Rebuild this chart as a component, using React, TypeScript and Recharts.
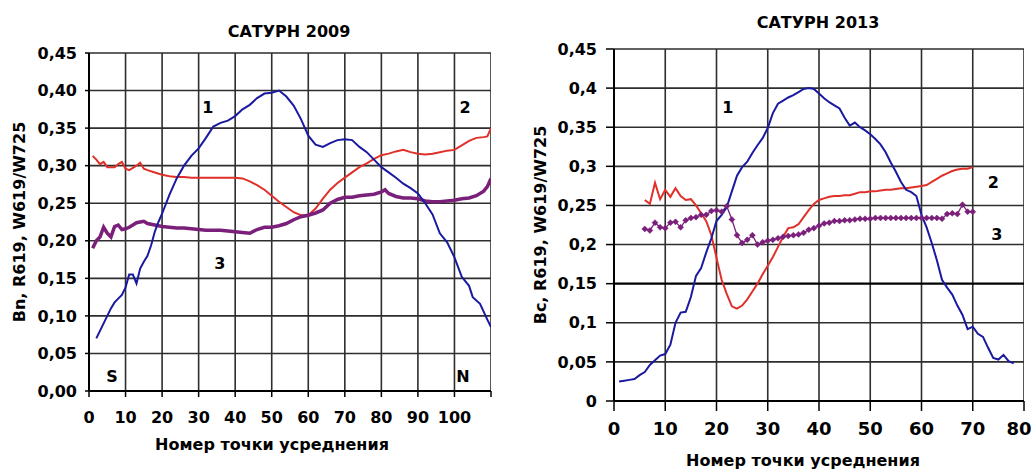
import React from 'react';
import { LineChart, Line, XAxis, YAxis, ReferenceDot } from 'recharts';

// ---------- Saturn 2009 (left) ----------
const LEFT_TITLE = 'САТУРН  2009';
const LEFT_Y_LABEL = 'Bn, R619,  W619/W725';
const LEFT_X_TICKS = [0, 10, 20, 30, 40, 50, 60, 70, 80, 90, 100, 110];

const LEFT_BLUE_X = [2, 3, 4, 5, 6, 7, 8, 9, 10, 11, 12, 13, 14, 15, 16, 17, 18, 19, 20, 22, 24, 26, 28, 30, 32, 34, 36, 38, 40, 42, 44, 46, 48, 50, 52, 54, 56, 58, 60, 62, 64, 66, 68, 70, 72, 74, 76, 78, 80, 82, 84, 86, 88, 90, 92, 94, 96, 98, 100, 102, 104, 105, 107, 109, 110];
const LEFT_BLUE_Y = [0.070, 0.080, 0.090, 0.100, 0.110, 0.118, 0.123, 0.128, 0.138, 0.155, 0.155, 0.143, 0.163, 0.172, 0.180, 0.194, 0.212, 0.225, 0.236, 0.261, 0.283, 0.300, 0.313, 0.323, 0.337, 0.352, 0.357, 0.360, 0.366, 0.375, 0.381, 0.390, 0.396, 0.397, 0.400, 0.392, 0.380, 0.362, 0.340, 0.328, 0.325, 0.330, 0.334, 0.335, 0.334, 0.325, 0.318, 0.308, 0.298, 0.291, 0.284, 0.276, 0.270, 0.263, 0.250, 0.235, 0.210, 0.198, 0.178, 0.152, 0.140, 0.125, 0.116, 0.095, 0.085];

const LEFT_RED_X = [1, 2, 3, 4, 5, 6, 7, 8, 9, 10, 11, 12, 13, 14, 15, 16, 18, 20, 22, 24, 26, 28, 30, 32, 34, 36, 38, 40, 42, 44, 46, 48, 50, 52, 54, 56, 58, 60, 62, 64, 66, 68, 70, 72, 74, 76, 78, 80, 82, 84, 86, 88, 90, 92, 94, 96, 98, 100, 102, 104, 106, 108, 109, 110];
const LEFT_RED_Y = [0.313, 0.308, 0.302, 0.305, 0.298, 0.298, 0.298, 0.302, 0.305, 0.296, 0.294, 0.297, 0.300, 0.304, 0.296, 0.294, 0.291, 0.288, 0.286, 0.285, 0.285, 0.284, 0.284, 0.284, 0.284, 0.284, 0.284, 0.284, 0.283, 0.279, 0.274, 0.268, 0.260, 0.252, 0.245, 0.238, 0.234, 0.234, 0.243, 0.256, 0.268, 0.277, 0.284, 0.291, 0.298, 0.303, 0.309, 0.314, 0.316, 0.319, 0.321, 0.318, 0.316, 0.315, 0.316, 0.318, 0.320, 0.321, 0.327, 0.333, 0.337, 0.338, 0.339, 0.350];

const LEFT_PURPLE_X = [1, 2, 3, 4, 5, 6, 7, 8, 9, 10, 11, 12, 13, 14, 15, 16, 18, 20, 22, 24, 26, 28, 30, 32, 34, 36, 38, 40, 42, 44, 46, 48, 50, 52, 54, 56, 58, 60, 62, 64, 66, 68, 70, 72, 74, 76, 78, 80, 81, 82, 84, 86, 88, 90, 92, 94, 96, 98, 100, 102, 104, 106, 108, 109, 110];
const LEFT_PURPLE_Y = [0.190, 0.200, 0.205, 0.218, 0.210, 0.205, 0.219, 0.221, 0.215, 0.216, 0.218, 0.221, 0.224, 0.225, 0.226, 0.223, 0.221, 0.219, 0.218, 0.217, 0.217, 0.216, 0.215, 0.214, 0.214, 0.214, 0.213, 0.212, 0.211, 0.210, 0.215, 0.218, 0.218, 0.220, 0.223, 0.228, 0.232, 0.234, 0.237, 0.241, 0.250, 0.255, 0.258, 0.258, 0.260, 0.261, 0.262, 0.265, 0.268, 0.263, 0.259, 0.257, 0.257, 0.256, 0.253, 0.252, 0.252, 0.253, 0.254, 0.256, 0.257, 0.260, 0.266, 0.272, 0.283];

// ---------- Saturn 2013 (right) ----------
const RIGHT_TITLE = 'САТУРН  2013';
const RIGHT_Y_LABEL = 'Bc,  R619,  W619/W725';
const RIGHT_X_TICKS = [0, 10, 20, 30, 40, 50, 60, 70, 80];

const RIGHT_BLUE_X = [1, 2, 3, 4, 5, 6, 7, 8, 9, 10, 11, 12, 13, 14, 15, 16, 17, 18, 19, 20, 21, 22, 23, 24, 25, 26, 27, 28, 29, 30, 31, 32, 33, 34, 35, 36, 37, 38, 39, 40, 41, 42, 43, 44, 45, 46, 47, 48, 49, 50, 51, 52, 53, 54, 55, 56, 57, 58, 59, 60, 61, 62, 63, 64, 65, 66, 67, 68, 69, 70, 71, 72, 73, 74, 75, 76, 77, 78];
const RIGHT_BLUE_Y = [0.025, 0.026, 0.027, 0.028, 0.033, 0.037, 0.046, 0.052, 0.058, 0.060, 0.072, 0.100, 0.113, 0.114, 0.133, 0.160, 0.170, 0.190, 0.208, 0.230, 0.238, 0.248, 0.268, 0.288, 0.299, 0.306, 0.317, 0.327, 0.336, 0.349, 0.368, 0.380, 0.384, 0.388, 0.391, 0.395, 0.399, 0.400, 0.399, 0.393, 0.387, 0.382, 0.378, 0.374, 0.362, 0.352, 0.356, 0.350, 0.346, 0.341, 0.335, 0.328, 0.318, 0.305, 0.293, 0.280, 0.270, 0.267, 0.262, 0.238, 0.222, 0.202, 0.180, 0.155, 0.145, 0.136, 0.122, 0.110, 0.092, 0.095, 0.086, 0.082, 0.068, 0.055, 0.053, 0.059, 0.051, 0.048];

const RIGHT_RED_X = [6, 7, 8, 9, 10, 11, 12, 13, 14, 15, 16, 17, 18, 19, 20, 21, 22, 23, 24, 25, 26, 27, 28, 29, 30, 31, 32, 33, 34, 35, 36, 37, 38, 39, 40, 41, 42, 43, 44, 45, 46, 47, 48, 49, 50, 51, 52, 53, 54, 55, 56, 57, 58, 59, 60, 61, 62, 63, 64, 65, 66, 67, 68, 69, 70];
const RIGHT_RED_Y = [0.257, 0.252, 0.279, 0.258, 0.270, 0.261, 0.272, 0.262, 0.257, 0.258, 0.250, 0.240, 0.230, 0.212, 0.183, 0.155, 0.137, 0.121, 0.118, 0.122, 0.130, 0.140, 0.150, 0.162, 0.173, 0.184, 0.197, 0.210, 0.221, 0.222, 0.226, 0.235, 0.244, 0.252, 0.257, 0.259, 0.261, 0.262, 0.262, 0.263, 0.263, 0.265, 0.267, 0.267, 0.268, 0.268, 0.269, 0.270, 0.270, 0.271, 0.272, 0.272, 0.273, 0.274, 0.275, 0.276, 0.280, 0.284, 0.288, 0.291, 0.294, 0.296, 0.297, 0.297, 0.299];

const RIGHT_PURPLE_X = [6, 7, 8, 9, 10, 11, 12, 13, 14, 15, 16, 17, 18, 19, 20, 21, 22, 23, 24, 25, 26, 27, 28, 29, 30, 31, 32, 33, 34, 35, 36, 37, 38, 39, 40, 41, 42, 43, 44, 45, 46, 47, 48, 49, 50, 51, 52, 53, 54, 55, 56, 57, 58, 59, 60, 61, 62, 63, 64, 65, 66, 67, 68, 69, 70];
const RIGHT_PURPLE_Y = [0.220, 0.218, 0.228, 0.222, 0.221, 0.228, 0.229, 0.222, 0.231, 0.234, 0.235, 0.238, 0.238, 0.243, 0.244, 0.242, 0.249, 0.232, 0.212, 0.202, 0.206, 0.212, 0.200, 0.203, 0.205, 0.206, 0.208, 0.210, 0.211, 0.212, 0.213, 0.215, 0.219, 0.221, 0.224, 0.227, 0.228, 0.230, 0.230, 0.231, 0.231, 0.232, 0.233, 0.233, 0.233, 0.234, 0.234, 0.234, 0.234, 0.234, 0.234, 0.234, 0.234, 0.234, 0.234, 0.234, 0.234, 0.234, 0.233, 0.239, 0.240, 0.239, 0.251, 0.242, 0.242];

const Y_TICKS = [0, 0.05, 0.1, 0.15, 0.2, 0.25, 0.3, 0.35, 0.4, 0.45];
const X_LABEL = 'Номер точки усреднения';

const BLUE = '#1a1aa0';
const RED = '#e0302a';
const PURPLE = '#7a1f7a';
const FONT = "'DejaVu Sans', sans-serif";

const zip = (xs: number[], ys: number[]) =>
  xs.slice(0, Math.min(xs.length, ys.length)).map((x, i) => ({ x, y: ys[i] }));

const fmtLeftY = (v: number) => v.toFixed(2).replace('.', ',');
const fmtRightY = (v: number) => String(Number(v.toFixed(2))).replace('.', ',');

// the whole grid as ONE series: segments along each tick, separated by null breaks
const buildGridData = (xTicks: number[], xMax: number, skipY?: number) => {
  const pts: { x: number; y: number | null }[] = [];
  xTicks.filter((t) => t > 0).forEach((t) => {
    pts.push({ x: t, y: 0 }, { x: t, y: 0.45 }, { x: t, y: null });
  });
  Y_TICKS.filter((t) => t > 0 && t !== skipY).forEach((t) => {
    pts.push({ x: 0, y: t }, { x: xMax, y: t }, { x: xMax, y: null });
  });
  return pts;
};

const Diamond = (props: any) => {
  const { cx, cy, index } = props;
  if (cx == null || cy == null) return <g key={`e-${index}`} />;
  const s = 3;
  return (
    <path
      key={`d-${index}`}
      d={`M${cx},${cy - s}L${cx + s},${cy}L${cx},${cy + s}L${cx - s},${cy}Z`}
      fill={PURPLE}
      stroke={PURPLE}
      strokeWidth={0.5}
    />
  );
};

const RightXTick = (props: any) => {
  const { x, y, payload } = props;
  const dx = payload.value === 80 ? -5 : 0;
  return (
    <text x={x + dx} y={y} dy="0.71em" textAnchor="middle" fill="#000" fontSize={18} fontWeight="bold" fontFamily={FONT}>
      {payload.value}
    </text>
  );
};

const annLabel = (value: string) => ({
  value,
  position: 'center' as const,
  fill: '#000',
  fontSize: 16,
  fontWeight: 'bold',
  fontFamily: FONT,
});

export default function App() {
  const tickStyle = { fill: '#000', fontSize: 16, fontWeight: 'bold', fontFamily: FONT };
  return (
    <div style={{ position: 'relative', width: 1035, height: 469, background: '#fff', overflow: 'hidden' }}>
      <style>{`body{margin:0;background:#fff}
        .lx .recharts-cartesian-axis-tick-value{letter-spacing:2px}
        .ry .recharts-cartesian-axis-tick-value{letter-spacing:1.5px}`}</style>

      <div style={{ position: 'absolute', left: 0, top: 0 }}>
        <LineChart width={520} height={469} margin={{ top: 53, right: 29, bottom: 48, left: 29 }}>
          <XAxis
            className="lx"
            type="number"
            dataKey="x"
            domain={[0, 110]}
            ticks={LEFT_X_TICKS}
            interval={0}
            allowDataOverflow
            height={30}
            tickSize={6}
            tickMargin={15}
            tick={tickStyle}
            tickFormatter={(v: number) => (v === 110 ? '' : String(v))}
            axisLine={{ stroke: '#000', strokeWidth: 2 }}
            tickLine={{ stroke: '#000', strokeWidth: 1.5 }}
          />
          <YAxis
            type="number"
            domain={[0, 0.45]}
            ticks={Y_TICKS}
            interval={0}
            width={60}
            tickSize={4}
            tickMargin={8}
            tick={tickStyle}
            tickFormatter={fmtLeftY}
            axisLine={{ stroke: '#000', strokeWidth: 2 }}
            tickLine={{ stroke: '#000', strokeWidth: 1.5 }}
          />
          <Line data={buildGridData(LEFT_X_TICKS, 110)} dataKey="y" stroke="#2e2e2e" strokeWidth={1.6}
            connectNulls={false} dot={false} activeDot={false} isAnimationActive={false} />
          <Line data={zip(LEFT_RED_X, LEFT_RED_Y)} dataKey="y" stroke={RED} strokeWidth={2} dot={false} isAnimationActive={false} />
          <Line data={zip(LEFT_PURPLE_X, LEFT_PURPLE_Y)} dataKey="y" stroke={PURPLE} strokeWidth={3.5} dot={false} isAnimationActive={false} />
          <Line data={zip(LEFT_BLUE_X, LEFT_BLUE_Y)} dataKey="y" stroke={BLUE} strokeWidth={2} dot={false} isAnimationActive={false} />
          <ReferenceDot x={32.5} y={0.378} r={1} fill="none" stroke="none" label={annLabel('1')} />
          <ReferenceDot x={102.9} y={0.378} r={1} fill="none" stroke="none" label={annLabel('2')} />
          <ReferenceDot x={35.8} y={0.17} r={1} fill="none" stroke="none" label={annLabel('3')} />
          <ReferenceDot x={6.3} y={0.019} r={1} fill="none" stroke="none" label={annLabel('S')} />
          <ReferenceDot x={102.3} y={0.019} r={1} fill="none" stroke="none" label={annLabel('N')} />
        </LineChart>
      </div>

      <div style={{ position: 'absolute', left: 520, top: 0 }}>
        <LineChart width={515} height={469} margin={{ top: 49, right: 11, bottom: 38, left: 34 }}>
          <XAxis
            type="number"
            dataKey="x"
            domain={[0, 80]}
            ticks={RIGHT_X_TICKS}
            interval={0}
            allowDataOverflow
            height={30}
            tickSize={10}
            tickMargin={11}
            tick={RightXTick}
            axisLine={{ stroke: '#000', strokeWidth: 2 }}
            tickLine={{ stroke: '#000', strokeWidth: 1.5 }}
          />
          <YAxis
            className="ry"
            type="number"
            domain={[0, 0.45]}
            ticks={Y_TICKS}
            interval={0}
            width={60}
            tickSize={8}
            tickMargin={9}
            tick={tickStyle}
            tickFormatter={fmtRightY}
            axisLine={{ stroke: '#000', strokeWidth: 2 }}
            tickLine={{ stroke: '#000', strokeWidth: 1.5 }}
          />
          <Line data={buildGridData(RIGHT_X_TICKS, 80, 0.15)} dataKey="y" stroke="#2e2e2e" strokeWidth={1.6}
            connectNulls={false} dot={false} activeDot={false} isAnimationActive={false} />
          <Line data={[{ x: 0, y: 0.15 }, { x: 80, y: 0.15 }]} dataKey="y" stroke="#000" strokeWidth={2.2}
            dot={false} activeDot={false} isAnimationActive={false} />
          <Line data={zip(RIGHT_RED_X, RIGHT_RED_Y)} dataKey="y" stroke={RED} strokeWidth={2} dot={false} isAnimationActive={false} />
          <Line data={zip(RIGHT_PURPLE_X, RIGHT_PURPLE_Y)} dataKey="y" stroke={PURPLE} strokeWidth={1.3} dot={Diamond} isAnimationActive={false} />
          <Line data={zip(RIGHT_BLUE_X, RIGHT_BLUE_Y)} dataKey="y" stroke={BLUE} strokeWidth={2} dot={false} isAnimationActive={false} />
          <ReferenceDot x={22.2} y={0.376} r={1} fill="none" stroke="none" label={annLabel('1')} />
          <ReferenceDot x={74} y={0.28} r={1} fill="none" stroke="none" label={annLabel('2')} />
          <ReferenceDot x={74.7} y={0.2135} r={1} fill="none" stroke="none" label={annLabel('3')} />
        </LineChart>
      </div>

      <svg width={1035} height={469} style={{ position: 'absolute', left: 0, top: 0, pointerEvents: 'none' }}>
        <g fontFamily={FONT} fontWeight="bold" fontSize={16} fill="#000" style={{ whiteSpace: 'pre' }}>
          <text x={289} y={37} textAnchor="middle">{LEFT_TITLE}</text>
          <text x={818} y={28} textAnchor="middle">{RIGHT_TITLE}</text>
          <text x={272} y={450} textAnchor="middle">{X_LABEL}</text>
          <text x={803} y={466} textAnchor="middle">{X_LABEL}</text>
          <text transform="translate(25,222) rotate(-90)" textAnchor="middle">{LEFT_Y_LABEL}</text>
          <text transform="translate(546,225) rotate(-90)" textAnchor="middle">{RIGHT_Y_LABEL}</text>
        </g>
      </svg>
    </div>
  );
}
